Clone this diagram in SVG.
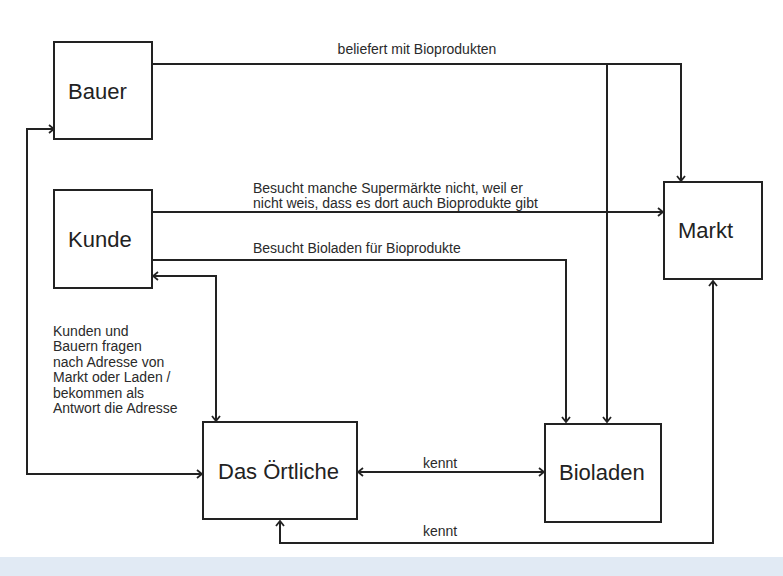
<svg xmlns="http://www.w3.org/2000/svg" width="783" height="576" viewBox="0 0 783 576">
<style>
.box{fill:#fff;stroke:#222;stroke-width:2}
.big{font-family:"Liberation Sans",Arial,sans-serif;font-size:22px;fill:#222}
.lbl{font-family:"Liberation Sans",Arial,sans-serif;font-size:14px;fill:#2a2a2a}
.c{fill:none;stroke:#222;stroke-width:2}
</style>
<defs>
<marker id="a" viewBox="0 0 10 10" refX="9" refY="5" markerWidth="10" markerHeight="10" markerUnits="userSpaceOnUse" orient="auto-start-reverse">
<path d="M4,1 L9,5 L4,9" fill="none" stroke="#222" stroke-width="1.8"/>
</marker>
</defs>
<rect x="0" y="0" width="783" height="576" fill="#fff"/>
<rect x="0" y="557" width="783" height="19" fill="#e1eaf4"/>
<g id="connectors">
<path class="c" d="M152,64 H681 V181" marker-end="url(#a)"/>
<path class="c" d="M607,64 V422" marker-end="url(#a)"/>
<path class="c" d="M152,212 H663" marker-end="url(#a)"/>
<path class="c" d="M152,260 H566 V422" marker-end="url(#a)"/>
<path class="c" d="M153,276 H216 V421" marker-start="url(#a)" marker-end="url(#a)"/>
<path class="c" d="M54,129 H27 V474 H202" marker-start="url(#a)" marker-end="url(#a)"/>
<path class="c" d="M358,472 H544" marker-start="url(#a)" marker-end="url(#a)"/>
<path class="c" d="M713,281 V543 H280 V521" marker-start="url(#a)" marker-end="url(#a)"/>
<text class="lbl" x="417" y="54" text-anchor="middle">beliefert mit Bioprodukten</text>
<text class="lbl" x="253" y="193">Besucht manche Supermärkte nicht, weil er</text>
<text class="lbl" x="253" y="208">nicht weis, dass es dort auch Bioprodukte gibt</text>
<text class="lbl" x="253" y="253">Besucht Bioladen für Bioprodukte</text>
<text class="lbl" x="53" y="336">Kunden und</text>
<text class="lbl" x="53" y="351">Bauern fragen</text>
<text class="lbl" x="53" y="367">nach Adresse von</text>
<text class="lbl" x="53" y="382">Markt oder Laden /</text>
<text class="lbl" x="53" y="398">bekommen als</text>
<text class="lbl" x="53" y="413">Antwort die Adresse</text>
<text class="lbl" x="423" y="468">kennt</text>
<text class="lbl" x="423" y="536">kennt</text>
</g>
<g id="bauer">
<rect class="box" x="54" y="42" width="98" height="97"/>
<text class="big" x="68" y="99">Bauer</text>
</g>
<g id="kunde">
<rect class="box" x="54" y="190" width="98" height="98"/>
<text class="big" x="68" y="247">Kunde</text>
</g>
<g id="markt">
<rect class="box" x="664" y="182" width="98" height="97"/>
<text class="big" x="678" y="238">Markt</text>
</g>
<g id="oertliche">
<rect class="box" x="203" y="422" width="154" height="97"/>
<text class="big" x="218" y="479">Das Örtliche</text>
</g>
<g id="bioladen">
<rect class="box" x="545" y="424" width="116" height="98"/>
<text class="big" x="559" y="480">Bioladen</text>
</g>
</svg>
